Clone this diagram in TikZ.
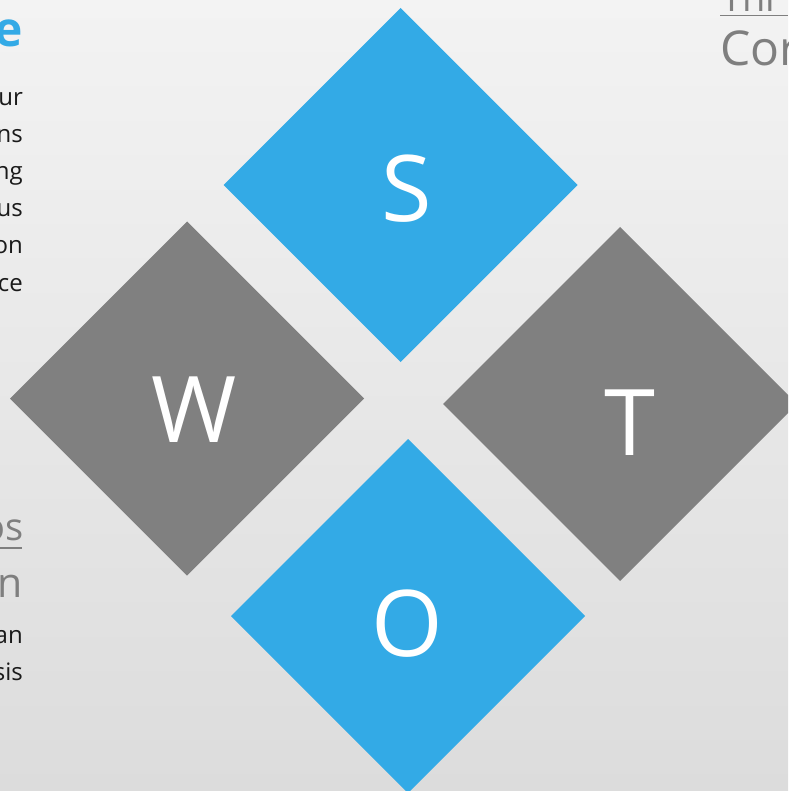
\documentclass[tikz,border=0pt]{standalone}
\usepackage{fontspec}
\setmainfont{Open Sans}
\definecolor{swotblue}{HTML}{33AAE6}
\definecolor{swotgray}{HTML}{808080}
\definecolor{bgtop}{HTML}{F3F3F3}
\definecolor{bgbot}{HTML}{DCDCDC}
\definecolor{bodytxt}{HTML}{1A1A1A}
\definecolor{headtxt}{HTML}{7F7F7F}
\begin{document}
\begin{tikzpicture}[x=1pt,y=-1pt,
  letter/.style={text=white,font=\fontsize{92}{92}\selectfont,inner sep=0pt,anchor=base},
  bodyr/.style={text=bodytxt,font=\fontsize{24}{24}\selectfont,inner sep=0pt,anchor=base east},
  headr/.style={text=headtxt,inner sep=0pt,anchor=base east},
  headl/.style={text=headtxt,inner sep=0pt,anchor=base west},
  uline/.style={draw=headtxt,line width=1.8pt}]
\useasboundingbox (0,0) rectangle (788,791);
\clip (0,0) rectangle (788,791);
\shade[top color=bgtop,bottom color=bgbot] (0,0) rectangle (788,791);
% diamonds
\fill[swotblue] (400.5,8) -- (577.5,185) -- (400.5,362) -- (223.5,185) -- cycle;
\fill[swotgray] (187,221.5) -- (364,398.5) -- (187,575.5) -- (10,398.5) -- cycle;
\fill[swotgray] (620,227) -- (797,404) -- (620,581) -- (443,404) -- cycle;
\fill[swotblue] (408,439) -- (585,616) -- (408,793) -- (231,616) -- cycle;
% letters
\node[letter] (s) at (407,222) {S};
\node[letter] (w) at (194,442) {W};
\node[letter] (t) at (630,455) {T};
\node[letter] (o) at (407,656) {O};
% left upper column
\node[inner sep=0pt,anchor=base east,text=swotblue,font=\fontsize{48}{48}\selectfont\bfseries] (h1) at (23,47) {e};
\node[bodyr] (l1) at (23,106) {ur};
\node[bodyr] (l2) at (23,143) {ns};
\node[bodyr] (l3) at (23,180) {ng};
\node[bodyr] (l4) at (23,217) {us};
\node[bodyr] (l5) at (23,254) {on};
\node[bodyr] (l6) at (23,291) {ce};
% left lower column
\node[headr,font=\fontsize{38}{38}\selectfont] (h2) at (24,540) {os};
\draw[uline] (0,548) -- (22,548);
\node[headr,font=\fontsize{41}{41}\selectfont] (h3) at (22.5,597) {n};
\node[bodyr] (l7) at (23,643) {an};
\node[bodyr] (l8) at (23,680) {sis};
% top right
\node[headl,font=\fontsize{38}{38}\selectfont] (h4) at (721,12) {Thi};
\draw[uline] (720,15.5) -- (788,15.5);
\node[headl,font=\fontsize{48}{48}\selectfont] (h5) at (720,66) {Cor};
\end{tikzpicture}
\end{document}
